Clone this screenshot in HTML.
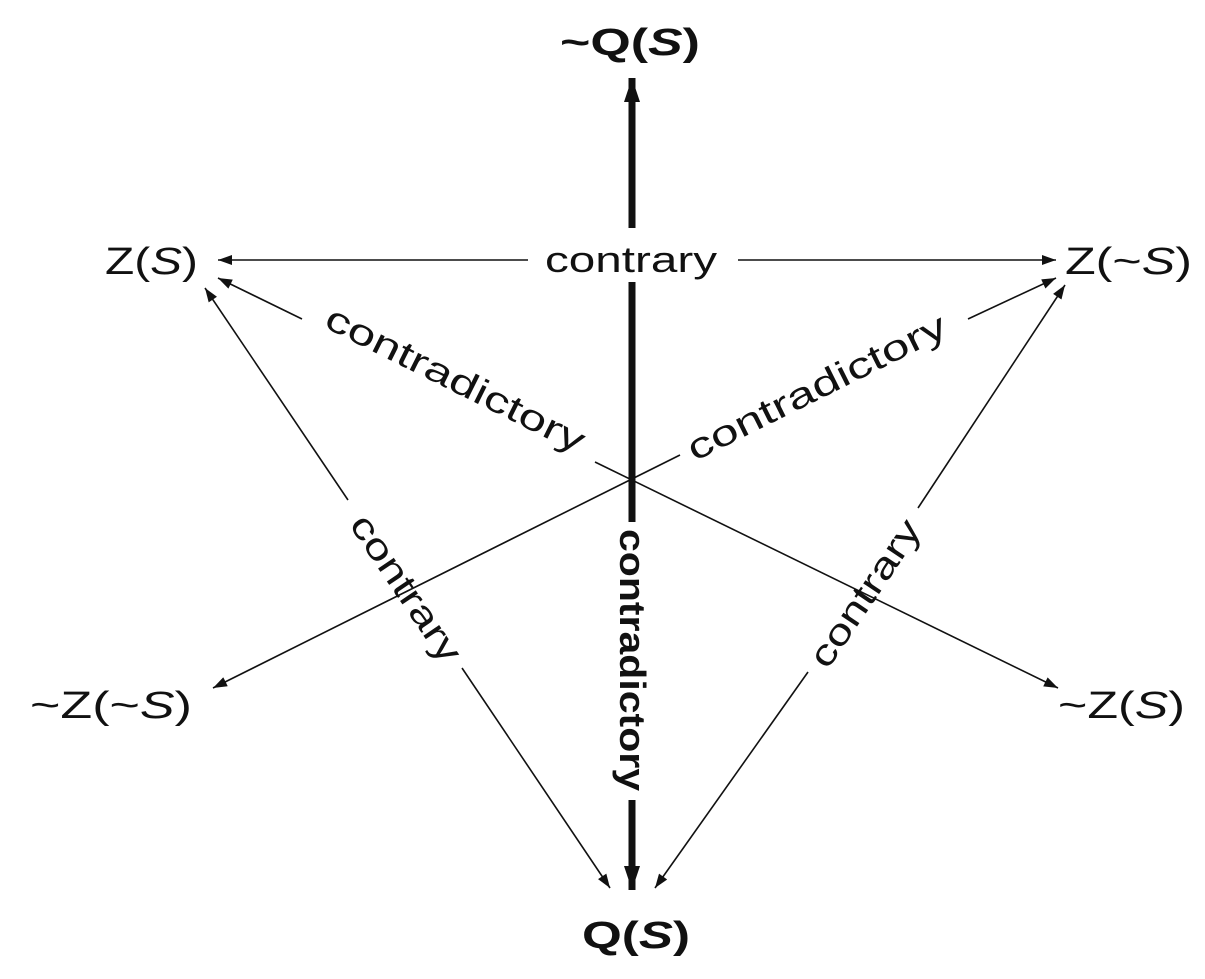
<!DOCTYPE html>
<html><head><meta charset="utf-8"><style>
html,body{margin:0;padding:0;background:#fff;}
svg{display:block;}
text{font-family:"Liberation Sans",sans-serif;fill:#111;}
</style></head><body>
<svg width="1205" height="979" viewBox="0 0 1205 979" xmlns="http://www.w3.org/2000/svg">
<defs>
<marker id="a" viewBox="0 0 14 10" refX="14" refY="5" markerWidth="15" markerHeight="10" markerUnits="userSpaceOnUse" orient="auto"><path d="M0,0 L14,5 L0,10 z" fill="#111"/></marker>
<marker id="b" viewBox="0 0 10 10" refX="10" refY="5" markerWidth="24" markerHeight="16" markerUnits="userSpaceOnUse" orient="auto" preserveAspectRatio="none"><path d="M0,0 L10,5 L0,10 z" fill="#111"/></marker>
</defs>
<g stroke="#111" fill="none">
<line x1="632" y1="228" x2="632" y2="78" stroke-width="7" marker-end="url(#b)"/>
<line x1="632" y1="282" x2="632" y2="522" stroke-width="7"/>
<line x1="632" y1="800" x2="632" y2="890" stroke-width="7" marker-end="url(#b)"/>
<line x1="528" y1="260" x2="218" y2="260" stroke-width="1.6" marker-end="url(#a)"/>
<line x1="738" y1="260" x2="1056" y2="260" stroke-width="1.6" marker-end="url(#a)"/>
<line x1="302" y1="319" x2="218" y2="278" stroke-width="1.6" marker-end="url(#a)"/>
<line x1="595" y1="462" x2="1058" y2="688" stroke-width="1.6" marker-end="url(#a)"/>
<line x1="968" y1="319" x2="1056" y2="278" stroke-width="1.6" marker-end="url(#a)"/>
<line x1="680" y1="455" x2="213" y2="688" stroke-width="1.6" marker-end="url(#a)"/>
<line x1="348" y1="500" x2="205" y2="288" stroke-width="1.6" marker-end="url(#a)"/>
<line x1="462" y1="668" x2="610" y2="888" stroke-width="1.6" marker-end="url(#a)"/>
<line x1="918" y1="508" x2="1065" y2="285" stroke-width="1.6" marker-end="url(#a)"/>
<line x1="808" y1="672" x2="655" y2="888" stroke-width="1.6" marker-end="url(#a)"/>
</g>
<g font-size="38">
<text x="560" y="55" font-weight="bold" textLength="140" lengthAdjust="spacingAndGlyphs">~Q(<tspan font-style="italic">S</tspan>)</text>
<text x="582" y="948" font-weight="bold" textLength="108" lengthAdjust="spacingAndGlyphs">Q(<tspan font-style="italic">S</tspan>)</text>
<text x="105" y="274" textLength="93" lengthAdjust="spacingAndGlyphs">Z(<tspan font-style="italic">S</tspan>)</text>
<text x="1065" y="274" textLength="127" lengthAdjust="spacingAndGlyphs">Z(~<tspan font-style="italic">S</tspan>)</text>
<text x="30" y="718" textLength="162" lengthAdjust="spacingAndGlyphs">~Z(~<tspan font-style="italic">S</tspan>)</text>
<text x="1058" y="718" textLength="127" lengthAdjust="spacingAndGlyphs">~Z(<tspan font-style="italic">S</tspan>)</text>
</g>
<g font-size="36">
<text x="631" y="272" text-anchor="middle" textLength="172" lengthAdjust="spacingAndGlyphs">contrary</text>
<text transform="translate(450,390) rotate(26.5)" text-anchor="middle" textLength="285" lengthAdjust="spacingAndGlyphs">contradictory</text>
<text transform="translate(822,398) rotate(-26.5)" text-anchor="middle" textLength="285" lengthAdjust="spacingAndGlyphs">contradictory</text>
<text transform="translate(396,595) rotate(56)" text-anchor="middle" textLength="170" lengthAdjust="spacingAndGlyphs">contrary</text>
<text transform="translate(875,600) rotate(-56)" text-anchor="middle" textLength="170" lengthAdjust="spacingAndGlyphs">contrary</text>
<text transform="translate(620,660) rotate(90)" text-anchor="middle" font-weight="bold" textLength="262" lengthAdjust="spacingAndGlyphs">contradictory</text>
</g>
</svg>
</body></html>
